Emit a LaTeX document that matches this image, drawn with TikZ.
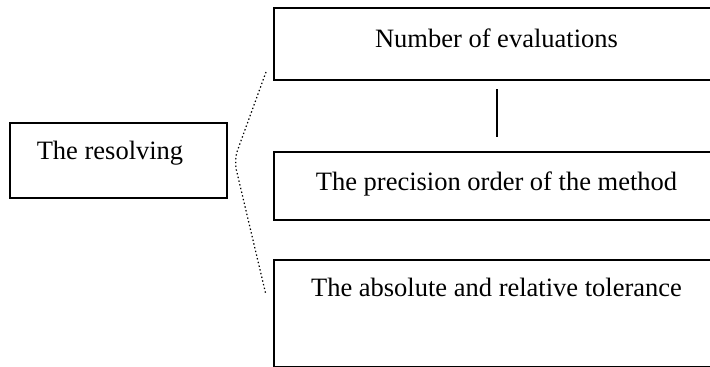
\documentclass[tikz,border=0pt]{standalone}
\usepackage{fontspec}
\setmainfont{Liberation Serif}
\begin{document}
\begin{tikzpicture}[x=1pt,y=-1pt,
  box/.style={draw=black, line width=2.8pt, fill=white, inner sep=0pt},
  txt/.style={inner sep=0pt, font=\fontsize{26.5}{31}\selectfont},
  link/.style={draw=black, line width=2.2pt},
  brace/.style={draw=black, line width=1.2pt, dash pattern=on 1.4pt off 2.4pt, rounded corners=10pt}]
  \useasboundingbox (0,0) rectangle (710,367);
  % boxes
  \node[box, minimum width=217pt, minimum height=75pt] (res) at (118.5,160.5) {};
  \node[box, minimum width=446pt, minimum height=72pt] (num) at (497,44) {};
  \node[box, minimum width=446pt, minimum height=68pt] (prec) at (497,186) {};
  \node[box, minimum width=446pt, minimum height=107pt] (tol) at (497,313.5) {};
  % texts
  \node[txt] (tres) at (110,153) {The resolving};
  \node[txt] (tnum) at (496.5,38) {Number of evaluations};
  \node[txt] (tprec) at (496.5,184) {The precision order of the method};
  \node[txt] (ttol) at (496.5,287) {The absolute and relative tolerance};
  % connector between top boxes
  \coordinate (v1) at (497,89);
  \coordinate (v2) at (497,137);
  \draw[link] (v1) -- (v2);
  % dotted brace
  \coordinate (b1) at (266,72);
  \coordinate (b2) at (234,160);
  \coordinate (b3) at (266,295);
  \draw[brace] (b1) -- (b2) -- (b3);
\end{tikzpicture}
\end{document}
